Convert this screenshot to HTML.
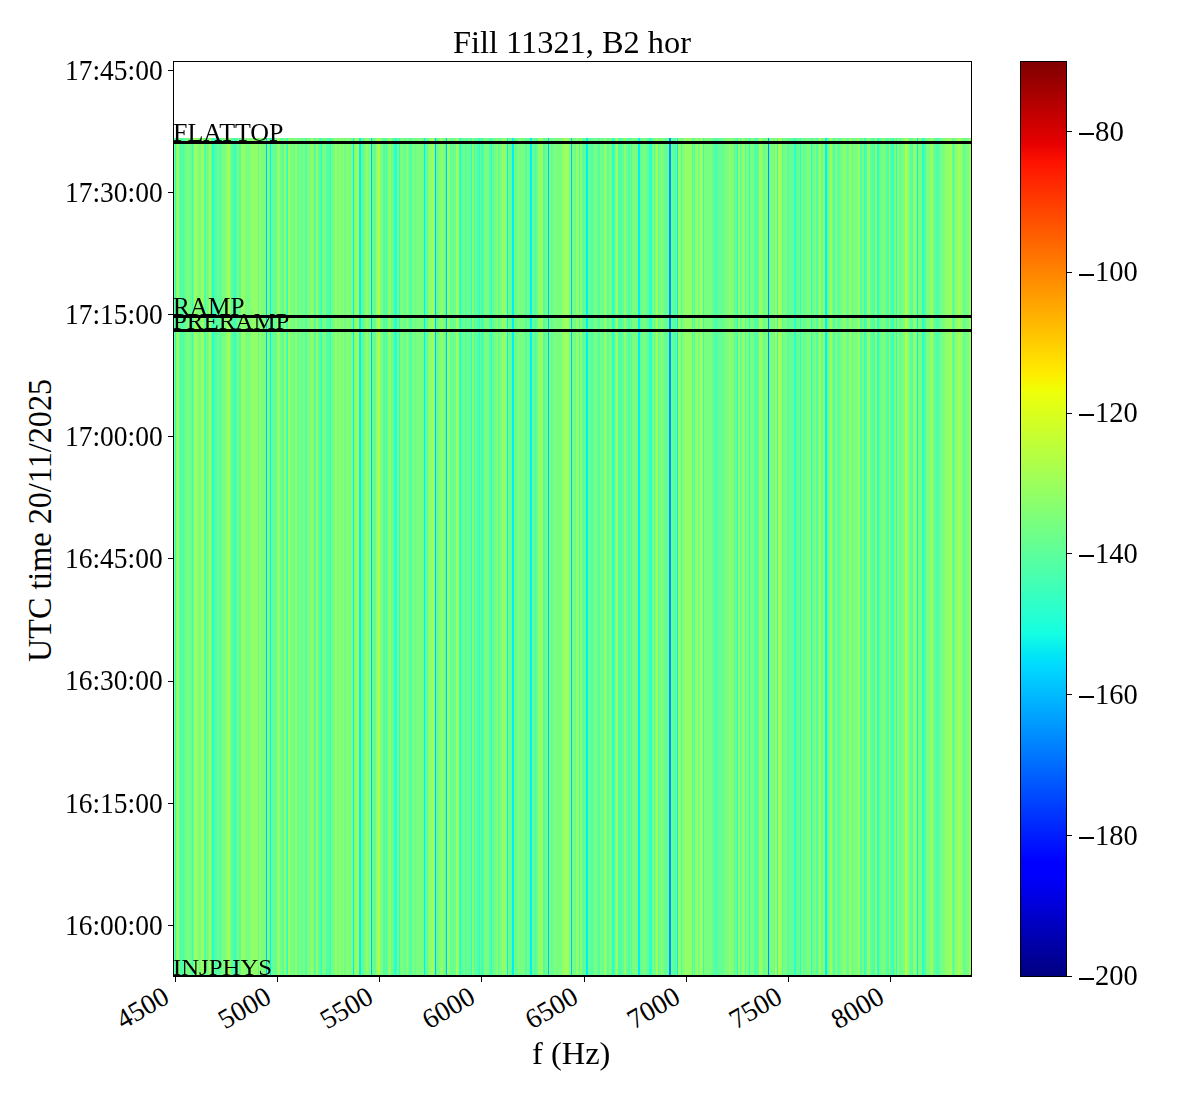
<!DOCTYPE html>
<html><head><meta charset="utf-8"><title>Fill 11321, B2 hor</title><style>
html,body{margin:0;padding:0;background:#fff;}
body{width:1200px;height:1100px;position:relative;overflow:hidden;font-family:"Liberation Serif",serif;color:#000;}
.t{position:absolute;white-space:nowrap;line-height:1;transform-origin:0 0;}
.k{position:absolute;background:#000;}
</style></head><body>

<svg style="position:absolute;left:174px;top:138px" width="797" height="837" shape-rendering="crispEdges"><defs><filter id="hb" x="0" y="0" width="1" height="1"><feGaussianBlur stdDeviation="0.45 0" edgeMode="duplicate"/></filter></defs><g filter="url(#hb)"><rect x="0" width="1" height="837" fill="#78ff80"/><rect x="1" width="1" height="837" fill="#28ffd0"/><rect x="2" width="1" height="837" fill="#78ff80"/><rect x="3" width="2" height="837" fill="#a0ff58"/><rect x="5" width="1" height="837" fill="#64ff94"/><rect x="6" width="4" height="837" fill="#50ffa8"/><rect x="10" width="2" height="837" fill="#64ff94"/><rect x="12" width="4" height="837" fill="#78ff80"/><rect x="16" width="2" height="837" fill="#64ff94"/><rect x="18" width="1" height="837" fill="#28ffd0"/><rect x="19" width="1" height="837" fill="#78ff80"/><rect x="20" width="2" height="837" fill="#a0ff58"/><rect x="22" width="2" height="837" fill="#90ff68"/><rect x="24" width="3" height="837" fill="#78ff80"/><rect x="27" width="2" height="837" fill="#a0ff58"/><rect x="29" width="1" height="837" fill="#90ff68"/><rect x="30" width="2" height="837" fill="#50ffa8"/><rect x="32" width="1" height="837" fill="#78ff80"/><rect x="33" width="1" height="837" fill="#64ff94"/><rect x="34" width="1" height="837" fill="#78ff80"/><rect x="35" width="2" height="837" fill="#a0ff58"/><rect x="37" width="1" height="837" fill="#64ff94"/><rect x="38" width="2" height="837" fill="#28ffd0"/><rect x="40" width="3" height="837" fill="#50ffa8"/><rect x="43" width="2" height="837" fill="#64ff94"/><rect x="45" width="1" height="837" fill="#50ffa8"/><rect x="46" width="2" height="837" fill="#64ff94"/><rect x="48" width="4" height="837" fill="#78ff80"/><rect x="52" width="2" height="837" fill="#90ff68"/><rect x="54" width="2" height="837" fill="#a0ff58"/><rect x="56" width="1" height="837" fill="#90ff68"/><rect x="57" width="3" height="837" fill="#50ffa8"/><rect x="60" width="1" height="837" fill="#28ffd0"/><rect x="61" width="2" height="837" fill="#50ffa8"/><rect x="63" width="2" height="837" fill="#78ff80"/><rect x="65" width="2" height="837" fill="#50ffa8"/><rect x="67" width="2" height="837" fill="#a0ff58"/><rect x="69" width="2" height="837" fill="#90ff68"/><rect x="71" width="6" height="837" fill="#78ff80"/><rect x="77" width="7" height="837" fill="#90ff68"/><rect x="84" width="1" height="837" fill="#50ffa8"/><rect x="85" width="2" height="837" fill="#a0ff58"/><rect x="87" width="5" height="837" fill="#78ff80"/><rect x="92" width="1" height="837" fill="#00c0ff"/><rect x="93" width="3" height="837" fill="#78ff80"/><rect x="96" width="1" height="837" fill="#00f0f8"/><rect x="97" width="6" height="837" fill="#64ff94"/><rect x="103" width="3" height="837" fill="#90ff68"/><rect x="106" width="1" height="837" fill="#78ff80"/><rect x="107" width="2" height="837" fill="#64ff94"/><rect x="109" width="1" height="837" fill="#50ffa8"/><rect x="110" width="2" height="837" fill="#90ff68"/><rect x="112" width="1" height="837" fill="#50ffa8"/><rect x="113" width="1" height="837" fill="#28ffd0"/><rect x="114" width="1" height="837" fill="#a0ff58"/><rect x="115" width="1" height="837" fill="#90ff68"/><rect x="116" width="4" height="837" fill="#78ff80"/><rect x="120" width="1" height="837" fill="#64ff94"/><rect x="121" width="2" height="837" fill="#90ff68"/><rect x="123" width="2" height="837" fill="#64ff94"/><rect x="125" width="2" height="837" fill="#78ff80"/><rect x="127" width="2" height="837" fill="#64ff94"/><rect x="129" width="2" height="837" fill="#78ff80"/><rect x="131" width="2" height="837" fill="#50ffa8"/><rect x="133" width="4" height="837" fill="#78ff80"/><rect x="137" width="2" height="837" fill="#a0ff58"/><rect x="139" width="1" height="837" fill="#78ff80"/><rect x="140" width="2" height="837" fill="#50ffa8"/><rect x="142" width="2" height="837" fill="#90ff68"/><rect x="144" width="2" height="837" fill="#64ff94"/><rect x="146" width="1" height="837" fill="#50ffa8"/><rect x="147" width="1" height="837" fill="#28ffd0"/><rect x="148" width="4" height="837" fill="#78ff80"/><rect x="152" width="4" height="837" fill="#50ffa8"/><rect x="156" width="1" height="837" fill="#28ffd0"/><rect x="157" width="4" height="837" fill="#78ff80"/><rect x="161" width="2" height="837" fill="#90ff68"/><rect x="163" width="2" height="837" fill="#78ff80"/><rect x="165" width="2" height="837" fill="#90ff68"/><rect x="167" width="2" height="837" fill="#78ff80"/><rect x="169" width="1" height="837" fill="#90ff68"/><rect x="170" width="1" height="837" fill="#64ff94"/><rect x="171" width="2" height="837" fill="#78ff80"/><rect x="173" width="2" height="837" fill="#90ff68"/><rect x="175" width="4" height="837" fill="#78ff80"/><rect x="179" width="1" height="837" fill="#00f0f8"/><rect x="180" width="1" height="837" fill="#78ff80"/><rect x="181" width="2" height="837" fill="#90ff68"/><rect x="183" width="2" height="837" fill="#a0ff58"/><rect x="185" width="2" height="837" fill="#00f0f8"/><rect x="187" width="2" height="837" fill="#64ff94"/><rect x="189" width="1" height="837" fill="#50ffa8"/><rect x="190" width="2" height="837" fill="#78ff80"/><rect x="192" width="2" height="837" fill="#90ff68"/><rect x="194" width="2" height="837" fill="#78ff80"/><rect x="196" width="1" height="837" fill="#90ff68"/><rect x="197" width="1" height="837" fill="#00c0ff"/><rect x="198" width="4" height="837" fill="#64ff94"/><rect x="202" width="2" height="837" fill="#90ff68"/><rect x="204" width="2" height="837" fill="#b4ff44"/><rect x="206" width="3" height="837" fill="#78ff80"/><rect x="209" width="2" height="837" fill="#50ffa8"/><rect x="211" width="1" height="837" fill="#64ff94"/><rect x="212" width="1" height="837" fill="#50ffa8"/><rect x="213" width="1" height="837" fill="#64ff94"/><rect x="214" width="3" height="837" fill="#90ff68"/><rect x="217" width="3" height="837" fill="#64ff94"/><rect x="220" width="3" height="837" fill="#28ffd0"/><rect x="223" width="2" height="837" fill="#78ff80"/><rect x="225" width="1" height="837" fill="#28ffd0"/><rect x="226" width="4" height="837" fill="#78ff80"/><rect x="230" width="2" height="837" fill="#64ff94"/><rect x="232" width="1" height="837" fill="#78ff80"/><rect x="233" width="1" height="837" fill="#90ff68"/><rect x="234" width="1" height="837" fill="#78ff80"/><rect x="235" width="3" height="837" fill="#50ffa8"/><rect x="238" width="3" height="837" fill="#78ff80"/><rect x="241" width="1" height="837" fill="#64ff94"/><rect x="242" width="8" height="837" fill="#78ff80"/><rect x="250" width="1" height="837" fill="#00f0f8"/><rect x="251" width="1" height="837" fill="#50ffa8"/><rect x="252" width="2" height="837" fill="#64ff94"/><rect x="254" width="1" height="837" fill="#78ff80"/><rect x="255" width="3" height="837" fill="#90ff68"/><rect x="258" width="2" height="837" fill="#a0ff58"/><rect x="260" width="1" height="837" fill="#78ff80"/><rect x="261" width="1" height="837" fill="#00c0ff"/><rect x="262" width="2" height="837" fill="#64ff94"/><rect x="264" width="2" height="837" fill="#78ff80"/><rect x="266" width="3" height="837" fill="#90ff68"/><rect x="269" width="2" height="837" fill="#78ff80"/><rect x="271" width="1" height="837" fill="#50ffa8"/><rect x="272" width="1" height="837" fill="#00c0ff"/><rect x="273" width="3" height="837" fill="#90ff68"/><rect x="276" width="4" height="837" fill="#64ff94"/><rect x="280" width="1" height="837" fill="#78ff80"/><rect x="281" width="1" height="837" fill="#64ff94"/><rect x="282" width="3" height="837" fill="#a0ff58"/><rect x="285" width="2" height="837" fill="#28ffd0"/><rect x="287" width="1" height="837" fill="#50ffa8"/><rect x="288" width="2" height="837" fill="#64ff94"/><rect x="290" width="1" height="837" fill="#78ff80"/><rect x="291" width="1" height="837" fill="#50ffa8"/><rect x="292" width="5" height="837" fill="#64ff94"/><rect x="297" width="1" height="837" fill="#28ffd0"/><rect x="298" width="1" height="837" fill="#90ff68"/><rect x="299" width="1" height="837" fill="#78ff80"/><rect x="300" width="1" height="837" fill="#50ffa8"/><rect x="301" width="2" height="837" fill="#64ff94"/><rect x="303" width="2" height="837" fill="#50ffa8"/><rect x="305" width="1" height="837" fill="#28ffd0"/><rect x="306" width="1" height="837" fill="#64ff94"/><rect x="307" width="1" height="837" fill="#50ffa8"/><rect x="308" width="1" height="837" fill="#28ffd0"/><rect x="309" width="1" height="837" fill="#64ff94"/><rect x="310" width="5" height="837" fill="#78ff80"/><rect x="315" width="2" height="837" fill="#50ffa8"/><rect x="317" width="1" height="837" fill="#28ffd0"/><rect x="318" width="3" height="837" fill="#64ff94"/><rect x="321" width="2" height="837" fill="#78ff80"/><rect x="323" width="1" height="837" fill="#90ff68"/><rect x="324" width="1" height="837" fill="#50ffa8"/><rect x="325" width="3" height="837" fill="#78ff80"/><rect x="328" width="5" height="837" fill="#90ff68"/><rect x="333" width="1" height="837" fill="#00f0f8"/><rect x="334" width="1" height="837" fill="#78ff80"/><rect x="335" width="3" height="837" fill="#64ff94"/><rect x="338" width="2" height="837" fill="#00f0f8"/><rect x="340" width="1" height="837" fill="#78ff80"/><rect x="341" width="2" height="837" fill="#64ff94"/><rect x="343" width="8" height="837" fill="#78ff80"/><rect x="351" width="2" height="837" fill="#50ffa8"/><rect x="353" width="1" height="837" fill="#78ff80"/><rect x="354" width="2" height="837" fill="#64ff94"/><rect x="356" width="2" height="837" fill="#00f0f8"/><rect x="358" width="1" height="837" fill="#64ff94"/><rect x="359" width="1" height="837" fill="#78ff80"/><rect x="360" width="2" height="837" fill="#50ffa8"/><rect x="362" width="2" height="837" fill="#64ff94"/><rect x="364" width="3" height="837" fill="#90ff68"/><rect x="367" width="2" height="837" fill="#a0ff58"/><rect x="369" width="2" height="837" fill="#50ffa8"/><rect x="371" width="2" height="837" fill="#64ff94"/><rect x="373" width="1" height="837" fill="#78ff80"/><rect x="374" width="1" height="837" fill="#00c0ff"/><rect x="375" width="2" height="837" fill="#78ff80"/><rect x="377" width="2" height="837" fill="#64ff94"/><rect x="379" width="9" height="837" fill="#78ff80"/><rect x="388" width="3" height="837" fill="#90ff68"/><rect x="391" width="4" height="837" fill="#a0ff58"/><rect x="395" width="2" height="837" fill="#78ff80"/><rect x="397" width="1" height="837" fill="#00c0ff"/><rect x="398" width="3" height="837" fill="#78ff80"/><rect x="401" width="1" height="837" fill="#64ff94"/><rect x="402" width="3" height="837" fill="#90ff68"/><rect x="405" width="1" height="837" fill="#50ffa8"/><rect x="406" width="2" height="837" fill="#90ff68"/><rect x="408" width="1" height="837" fill="#64ff94"/><rect x="409" width="1" height="837" fill="#50ffa8"/><rect x="410" width="2" height="837" fill="#64ff94"/><rect x="412" width="2" height="837" fill="#00f0f8"/><rect x="414" width="3" height="837" fill="#64ff94"/><rect x="417" width="2" height="837" fill="#50ffa8"/><rect x="419" width="1" height="837" fill="#64ff94"/><rect x="420" width="3" height="837" fill="#78ff80"/><rect x="423" width="1" height="837" fill="#64ff94"/><rect x="424" width="2" height="837" fill="#50ffa8"/><rect x="426" width="2" height="837" fill="#78ff80"/><rect x="428" width="2" height="837" fill="#64ff94"/><rect x="430" width="3" height="837" fill="#90ff68"/><rect x="433" width="1" height="837" fill="#50ffa8"/><rect x="434" width="1" height="837" fill="#64ff94"/><rect x="435" width="3" height="837" fill="#78ff80"/><rect x="438" width="2" height="837" fill="#28ffd0"/><rect x="440" width="1" height="837" fill="#50ffa8"/><rect x="441" width="1" height="837" fill="#78ff80"/><rect x="442" width="1" height="837" fill="#a0ff58"/><rect x="443" width="1" height="837" fill="#90ff68"/><rect x="444" width="4" height="837" fill="#50ffa8"/><rect x="448" width="2" height="837" fill="#64ff94"/><rect x="450" width="2" height="837" fill="#90ff68"/><rect x="452" width="2" height="837" fill="#64ff94"/><rect x="454" width="2" height="837" fill="#50ffa8"/><rect x="456" width="1" height="837" fill="#78ff80"/><rect x="457" width="1" height="837" fill="#50ffa8"/><rect x="458" width="6" height="837" fill="#78ff80"/><rect x="464" width="2" height="837" fill="#00f0f8"/><rect x="466" width="2" height="837" fill="#64ff94"/><rect x="468" width="4" height="837" fill="#78ff80"/><rect x="472" width="3" height="837" fill="#64ff94"/><rect x="475" width="3" height="837" fill="#28ffd0"/><rect x="478" width="2" height="837" fill="#78ff80"/><rect x="480" width="1" height="837" fill="#64ff94"/><rect x="481" width="1" height="837" fill="#78ff80"/><rect x="482" width="2" height="837" fill="#a0ff58"/><rect x="484" width="1" height="837" fill="#50ffa8"/><rect x="485" width="2" height="837" fill="#78ff80"/><rect x="487" width="1" height="837" fill="#90ff68"/><rect x="488" width="2" height="837" fill="#78ff80"/><rect x="490" width="5" height="837" fill="#64ff94"/><rect x="495" width="2" height="837" fill="#0090ff"/><rect x="497" width="3" height="837" fill="#64ff94"/><rect x="500" width="2" height="837" fill="#50ffa8"/><rect x="502" width="1" height="837" fill="#78ff80"/><rect x="503" width="1" height="837" fill="#00f0f8"/><rect x="504" width="3" height="837" fill="#90ff68"/><rect x="507" width="1" height="837" fill="#50ffa8"/><rect x="508" width="2" height="837" fill="#78ff80"/><rect x="510" width="8" height="837" fill="#90ff68"/><rect x="518" width="1" height="837" fill="#50ffa8"/><rect x="519" width="1" height="837" fill="#78ff80"/><rect x="520" width="1" height="837" fill="#50ffa8"/><rect x="521" width="3" height="837" fill="#90ff68"/><rect x="524" width="2" height="837" fill="#78ff80"/><rect x="526" width="3" height="837" fill="#a0ff58"/><rect x="529" width="1" height="837" fill="#28ffd0"/><rect x="530" width="8" height="837" fill="#78ff80"/><rect x="538" width="2" height="837" fill="#64ff94"/><rect x="540" width="4" height="837" fill="#50ffa8"/><rect x="544" width="6" height="837" fill="#64ff94"/><rect x="550" width="5" height="837" fill="#78ff80"/><rect x="555" width="2" height="837" fill="#90ff68"/><rect x="557" width="1" height="837" fill="#78ff80"/><rect x="558" width="1" height="837" fill="#90ff68"/><rect x="559" width="1" height="837" fill="#78ff80"/><rect x="560" width="3" height="837" fill="#64ff94"/><rect x="563" width="1" height="837" fill="#28ffd0"/><rect x="564" width="2" height="837" fill="#90ff68"/><rect x="566" width="2" height="837" fill="#64ff94"/><rect x="568" width="3" height="837" fill="#90ff68"/><rect x="571" width="1" height="837" fill="#50ffa8"/><rect x="572" width="3" height="837" fill="#78ff80"/><rect x="575" width="1" height="837" fill="#28ffd0"/><rect x="576" width="4" height="837" fill="#78ff80"/><rect x="580" width="4" height="837" fill="#50ffa8"/><rect x="584" width="1" height="837" fill="#64ff94"/><rect x="585" width="2" height="837" fill="#a0ff58"/><rect x="587" width="2" height="837" fill="#90ff68"/><rect x="589" width="2" height="837" fill="#64ff94"/><rect x="591" width="3" height="837" fill="#78ff80"/><rect x="594" width="1" height="837" fill="#0090ff"/><rect x="595" width="1" height="837" fill="#64ff94"/><rect x="596" width="4" height="837" fill="#78ff80"/><rect x="600" width="1" height="837" fill="#64ff94"/><rect x="601" width="2" height="837" fill="#b4ff44"/><rect x="603" width="1" height="837" fill="#28ffd0"/><rect x="604" width="4" height="837" fill="#a0ff58"/><rect x="608" width="1" height="837" fill="#50ffa8"/><rect x="609" width="4" height="837" fill="#78ff80"/><rect x="613" width="1" height="837" fill="#50ffa8"/><rect x="614" width="6" height="837" fill="#64ff94"/><rect x="620" width="2" height="837" fill="#28ffd0"/><rect x="622" width="4" height="837" fill="#64ff94"/><rect x="626" width="1" height="837" fill="#28ffd0"/><rect x="627" width="2" height="837" fill="#78ff80"/><rect x="629" width="3" height="837" fill="#64ff94"/><rect x="632" width="4" height="837" fill="#78ff80"/><rect x="636" width="1" height="837" fill="#90ff68"/><rect x="637" width="1" height="837" fill="#28ffd0"/><rect x="638" width="2" height="837" fill="#64ff94"/><rect x="640" width="2" height="837" fill="#78ff80"/><rect x="642" width="2" height="837" fill="#50ffa8"/><rect x="644" width="1" height="837" fill="#78ff80"/><rect x="645" width="2" height="837" fill="#a0ff58"/><rect x="647" width="2" height="837" fill="#64ff94"/><rect x="649" width="2" height="837" fill="#90ff68"/><rect x="651" width="2" height="837" fill="#00f0f8"/><rect x="653" width="1" height="837" fill="#50ffa8"/><rect x="654" width="2" height="837" fill="#78ff80"/><rect x="656" width="2" height="837" fill="#a0ff58"/><rect x="658" width="1" height="837" fill="#78ff80"/><rect x="659" width="2" height="837" fill="#50ffa8"/><rect x="661" width="3" height="837" fill="#78ff80"/><rect x="664" width="1" height="837" fill="#50ffa8"/><rect x="665" width="2" height="837" fill="#64ff94"/><rect x="667" width="2" height="837" fill="#78ff80"/><rect x="669" width="3" height="837" fill="#90ff68"/><rect x="672" width="3" height="837" fill="#64ff94"/><rect x="675" width="1" height="837" fill="#90ff68"/><rect x="676" width="1" height="837" fill="#a0ff58"/><rect x="677" width="1" height="837" fill="#78ff80"/><rect x="678" width="1" height="837" fill="#64ff94"/><rect x="679" width="4" height="837" fill="#78ff80"/><rect x="683" width="3" height="837" fill="#90ff68"/><rect x="686" width="2" height="837" fill="#50ffa8"/><rect x="688" width="2" height="837" fill="#78ff80"/><rect x="690" width="1" height="837" fill="#28ffd0"/><rect x="691" width="2" height="837" fill="#50ffa8"/><rect x="693" width="3" height="837" fill="#90ff68"/><rect x="696" width="2" height="837" fill="#64ff94"/><rect x="698" width="3" height="837" fill="#50ffa8"/><rect x="701" width="2" height="837" fill="#90ff68"/><rect x="703" width="2" height="837" fill="#28ffd0"/><rect x="705" width="2" height="837" fill="#64ff94"/><rect x="707" width="5" height="837" fill="#78ff80"/><rect x="712" width="3" height="837" fill="#50ffa8"/><rect x="715" width="1" height="837" fill="#90ff68"/><rect x="716" width="3" height="837" fill="#50ffa8"/><rect x="719" width="1" height="837" fill="#28ffd0"/><rect x="720" width="2" height="837" fill="#78ff80"/><rect x="722" width="1" height="837" fill="#28ffd0"/><rect x="723" width="2" height="837" fill="#90ff68"/><rect x="725" width="3" height="837" fill="#64ff94"/><rect x="728" width="3" height="837" fill="#78ff80"/><rect x="731" width="2" height="837" fill="#b4ff44"/><rect x="733" width="2" height="837" fill="#90ff68"/><rect x="735" width="2" height="837" fill="#64ff94"/><rect x="737" width="2" height="837" fill="#50ffa8"/><rect x="739" width="4" height="837" fill="#90ff68"/><rect x="743" width="1" height="837" fill="#00f0f8"/><rect x="744" width="4" height="837" fill="#78ff80"/><rect x="748" width="2" height="837" fill="#28ffd0"/><rect x="750" width="2" height="837" fill="#50ffa8"/><rect x="752" width="4" height="837" fill="#78ff80"/><rect x="756" width="1" height="837" fill="#90ff68"/><rect x="757" width="2" height="837" fill="#a0ff58"/><rect x="759" width="1" height="837" fill="#78ff80"/><rect x="760" width="1" height="837" fill="#50ffa8"/><rect x="761" width="1" height="837" fill="#64ff94"/><rect x="762" width="3" height="837" fill="#50ffa8"/><rect x="765" width="2" height="837" fill="#64ff94"/><rect x="767" width="4" height="837" fill="#78ff80"/><rect x="771" width="5" height="837" fill="#90ff68"/><rect x="776" width="2" height="837" fill="#a0ff58"/><rect x="778" width="1" height="837" fill="#64ff94"/><rect x="779" width="1" height="837" fill="#50ffa8"/><rect x="780" width="1" height="837" fill="#64ff94"/><rect x="781" width="3" height="837" fill="#90ff68"/><rect x="784" width="2" height="837" fill="#a0ff58"/><rect x="786" width="3" height="837" fill="#90ff68"/><rect x="789" width="3" height="837" fill="#64ff94"/><rect x="792" width="3" height="837" fill="#78ff80"/><rect x="795" width="2" height="837" fill="#90ff68"/></g></svg>
<div class="k" style="left:173px;top:61px;width:799px;height:1px"></div>
<div class="k" style="left:173px;top:975px;width:799px;height:2px"></div>
<div class="k" style="left:173px;top:61px;width:1px;height:915px"></div>
<div class="k" style="left:971px;top:61px;width:1px;height:915px"></div>
<div class="k" style="left:173px;top:141px;width:799px;height:3px"></div>
<div class="k" style="left:173px;top:315px;width:799px;height:3px"></div>
<div class="k" style="left:173px;top:329px;width:799px;height:3px"></div>
<div class="k" style="left:168px;top:70px;width:5px;height:1px"></div>
<div class="k" style="left:168px;top:192px;width:5px;height:1px"></div>
<div class="k" style="left:168px;top:314px;width:5px;height:1px"></div>
<div class="k" style="left:168px;top:436px;width:5px;height:1px"></div>
<div class="k" style="left:168px;top:558px;width:5px;height:1px"></div>
<div class="k" style="left:168px;top:681px;width:5px;height:1px"></div>
<div class="k" style="left:168px;top:803px;width:5px;height:1px"></div>
<div class="k" style="left:168px;top:925px;width:5px;height:1px"></div>
<div class="k" style="left:175px;top:977px;width:1px;height:5px"></div>
<div class="k" style="left:277px;top:977px;width:1px;height:5px"></div>
<div class="k" style="left:379px;top:977px;width:1px;height:5px"></div>
<div class="k" style="left:481px;top:977px;width:1px;height:5px"></div>
<div class="k" style="left:584px;top:977px;width:1px;height:5px"></div>
<div class="k" style="left:686px;top:977px;width:1px;height:5px"></div>
<div class="k" style="left:788px;top:977px;width:1px;height:5px"></div>
<div class="k" style="left:890px;top:977px;width:1px;height:5px"></div>
<div style="position:absolute;left:1020px;top:61px;width:45px;height:914px;border:1px solid #000;background:linear-gradient(to top,#000080 0.00%,#0000ff 11.00%,#0000ff 12.50%,#00dbff 34.00%,#00e5f7 35.00%,#15ffe2 37.50%,#efff08 64.00%,#f7f600 65.00%,#ffec00 66.00%,#ff1300 89.00%,#e80000 91.00%,#800000 100.00%)"></div>
<div class="k" style="left:1067px;top:131px;width:5px;height:1px"></div>
<div class="k" style="left:1079px;top:133px;width:15px;height:2px"></div>
<div class="k" style="left:1067px;top:272px;width:5px;height:1px"></div>
<div class="k" style="left:1079px;top:274px;width:15px;height:2px"></div>
<div class="k" style="left:1067px;top:413px;width:5px;height:1px"></div>
<div class="k" style="left:1079px;top:414px;width:15px;height:2px"></div>
<div class="k" style="left:1067px;top:553px;width:5px;height:1px"></div>
<div class="k" style="left:1079px;top:555px;width:15px;height:2px"></div>
<div class="k" style="left:1067px;top:694px;width:5px;height:1px"></div>
<div class="k" style="left:1079px;top:696px;width:15px;height:2px"></div>
<div class="k" style="left:1067px;top:835px;width:5px;height:1px"></div>
<div class="k" style="left:1079px;top:837px;width:15px;height:2px"></div>
<div class="k" style="left:1067px;top:976px;width:5px;height:1px"></div>
<div class="k" style="left:1079px;top:978px;width:15px;height:2px"></div>
<div class="t" id="yt0" style="left:65.03px;top:56.42px;font-size:27.78px;transform:scale(0.9895,1.0596)">17:45:00</div>
<div class="t" id="yt1" style="left:65.03px;top:178.33px;font-size:27.78px;transform:scale(0.9895,1.0596)">17:30:00</div>
<div class="t" id="yt2" style="left:65.03px;top:300.16px;font-size:27.78px;transform:scale(0.9895,1.0596)">17:15:00</div>
<div class="t" id="yt3" style="left:65.03px;top:422.07px;font-size:27.78px;transform:scale(0.9895,1.0596)">17:00:00</div>
<div class="t" id="yt4" style="left:65.03px;top:543.90px;font-size:27.78px;transform:scale(0.9895,1.0596)">16:45:00</div>
<div class="t" id="yt5" style="left:65.03px;top:665.73px;font-size:27.78px;transform:scale(0.9895,1.0596)">16:30:00</div>
<div class="t" id="yt6" style="left:65.03px;top:788.56px;font-size:27.78px;transform:scale(0.9895,1.0596)">16:15:00</div>
<div class="t" id="yt7" style="left:65.03px;top:911.47px;font-size:27.78px;transform:scale(0.9895,1.0596)">16:00:00</div>
<div class="t" id="xt0" style="left:99.50px;top:982.00px;width:60px;height:40px;"><span style="position:absolute;right:0;top:0;font-size:27.78px;transform-origin:100% 0;transform:rotate(-30deg)">4500</span></div>
<div class="t" id="xt1" style="left:201.64px;top:982.00px;width:60px;height:40px;"><span style="position:absolute;right:0;top:0;font-size:27.78px;transform-origin:100% 0;transform:rotate(-30deg)">5000</span></div>
<div class="t" id="xt2" style="left:303.79px;top:982.00px;width:60px;height:40px;"><span style="position:absolute;right:0;top:0;font-size:27.78px;transform-origin:100% 0;transform:rotate(-30deg)">5500</span></div>
<div class="t" id="xt3" style="left:405.93px;top:982.00px;width:60px;height:40px;"><span style="position:absolute;right:0;top:0;font-size:27.78px;transform-origin:100% 0;transform:rotate(-30deg)">6000</span></div>
<div class="t" id="xt4" style="left:508.07px;top:982.00px;width:60px;height:40px;"><span style="position:absolute;right:0;top:0;font-size:27.78px;transform-origin:100% 0;transform:rotate(-30deg)">6500</span></div>
<div class="t" id="xt5" style="left:610.21px;top:982.00px;width:60px;height:40px;"><span style="position:absolute;right:0;top:0;font-size:27.78px;transform-origin:100% 0;transform:rotate(-30deg)">7000</span></div>
<div class="t" id="xt6" style="left:712.36px;top:982.00px;width:60px;height:40px;"><span style="position:absolute;right:0;top:0;font-size:27.78px;transform-origin:100% 0;transform:rotate(-30deg)">7500</span></div>
<div class="t" id="xt7" style="left:814.50px;top:982.00px;width:60px;height:40px;"><span style="position:absolute;right:0;top:0;font-size:27.78px;transform-origin:100% 0;transform:rotate(-30deg)">8000</span></div>
<div class="t" id="title" style="left:453.03px;top:26.20px;font-size:33.33px;transform:scale(0.9713,0.9500)">Fill 11321, B2 hor</div>
<div class="t" id="ylab" style="left:23.40px;top:661.97px;font-size:33.33px;transform:rotate(-90deg) scale(0.9656,1.0038)">UTC time 20/11/2025</div>
<div class="t" id="xlab" style="left:532.03px;top:1036.70px;font-size:33.33px;transform:scale(0.9744,0.9700)">f (Hz)</div>
<div class="t" id="FLATTOP" style="left:172.94px;top:119.67px;font-size:24.5px;transform:scale(1.0588,1.0667)">FLATTOP</div>
<div class="t" id="RAMP" style="left:172.97px;top:293.57px;font-size:24.5px;transform:scale(1.0299,1.0714)">RAMP</div>
<div class="t" id="PRERAMP" style="left:172.98px;top:309.70px;font-size:24.5px;transform:scale(1.0179,0.9650)">PRERAMP</div>
<div class="t" id="INJPHYS" style="left:172.99px;top:955.70px;font-size:24.5px;transform:scale(1.0105,0.9650)">INJPHYS</div>
<div class="t" id="cb0" style="left:1094.96px;top:116.72px;font-size:27.78px;transform:scale(1.0385,1.0556)">80</div>
<div class="t" id="cb1" style="left:1094.92px;top:256.53px;font-size:27.78px;transform:scale(1.0263,1.0556)">100</div>
<div class="t" id="cb2" style="left:1094.92px;top:397.94px;font-size:27.78px;transform:scale(1.0263,1.0556)">120</div>
<div class="t" id="cb3" style="left:1094.92px;top:539.21px;font-size:27.78px;transform:scale(1.0263,1.0556)">140</div>
<div class="t" id="cb4" style="left:1094.92px;top:680.02px;font-size:27.78px;transform:scale(1.0263,1.0556)">160</div>
<div class="t" id="cb5" style="left:1094.92px;top:820.83px;font-size:27.78px;transform:scale(1.0263,1.0556)">180</div>
<div class="t" id="cb6" style="left:1094.97px;top:960.64px;font-size:27.78px;transform:scale(1.0250,1.0556)">200</div>
</body></html>
